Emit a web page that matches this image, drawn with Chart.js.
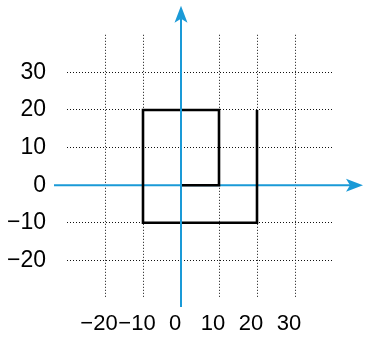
<!DOCTYPE html>
<html>
<head>
<meta charset="utf-8">
<script src="https://cdn.jsdelivr.net/npm/chart.js@4"></script>
<style>
  html, body { margin: 0; padding: 0; background: #fff; }
  #wrap { width: 366px; height: 337px; position: relative; }
</style>
</head>
<body>
<div id="wrap"><canvas id="chart"></canvas></div>
<script>
// spiral path, in grid units
const pathX = [0, 10, 10, -10, -10, 20, 20];
const pathY = [0, 0, 20, 20, -10, -10, 20];

// ticks with a label and a dotted grid line
const xTickValues = [-20, -10, 0, 10, 20, 30];
const yTickValues = [-20, -10, 0, 10, 20, 30];

// visible window of the grid
const xRange = [-30, 40];
const yRange = [-30, 40];

const axisBlue = '#1a9ad7';
const fontFamily = '"Liberation Sans", Arial, Helvetica, sans-serif';

function label(v, list) {
    return list.includes(v) ? String(v).replace('-', '\u2212') : '';
}

function everyTen(scale) {
    const ticks = [];
    for (let v = scale.min; v <= scale.max; v += 10) ticks.push({ value: v });
    scale.ticks = ticks;
}

function arrowLine(ctx, x1, y1, x2, y2) {
    // line from (x1,y1) to an arrow tip at (x2,y2)
    const ang = Math.atan2(y2 - y1, x2 - x1);
    const len = 17, half = 6.5, notch = 4;
    const cos = Math.cos(ang), sin = Math.sin(ang);
    const bx = x2 - cos * len, by = y2 - sin * len;
    ctx.beginPath();
    ctx.moveTo(x1, y1);
    ctx.lineTo(x2 - cos * (len - notch), y2 - sin * (len - notch));
    ctx.stroke();
    ctx.beginPath();
    ctx.moveTo(x2, y2);
    ctx.lineTo(bx - sin * half, by + cos * half);
    ctx.lineTo(x2 - cos * (len - notch), y2 - sin * (len - notch));
    ctx.lineTo(bx + sin * half, by - cos * half);
    ctx.closePath();
    ctx.fill();
}

const axesPlugin = {
    id: 'arrowAxes',
    beforeDatasetsDraw(chart) {
        const { ctx, chartArea: a, scales } = chart;
        const y0 = scales.y.getPixelForValue(0);
        ctx.save();
        ctx.strokeStyle = axisBlue;
        ctx.fillStyle = axisBlue;
        ctx.lineWidth = 2;
        arrowLine(ctx, a.left - 13, y0, a.right + 30, y0);
        ctx.restore();
    },
    afterDatasetsDraw(chart) {
        const { ctx, chartArea: a, scales } = chart;
        const x0 = scales.x.getPixelForValue(0);
        ctx.save();
        ctx.strokeStyle = axisBlue;
        ctx.fillStyle = axisBlue;
        ctx.lineWidth = 2;
        arrowLine(ctx, x0, a.bottom + 9, x0, a.top - 29);
        ctx.restore();
    }
};

new Chart(document.getElementById('chart'), {
    type: 'scatter',
    data: {
        datasets: [{
            data: pathX.map((x, i) => ({ x: x, y: pathY[i] })),
            showLine: true,
            borderColor: '#000',
            borderWidth: 2.6,
            pointRadius: 0,
            tension: 0,
            borderJoinStyle: 'miter'
        }]
    },
    options: {
        responsive: true,
        maintainAspectRatio: false,
        animation: false,
        layout: { padding: { top: 34, right: 33, left: 0, bottom: 0 } },
        plugins: { legend: { display: false }, tooltip: { enabled: false } },
        scales: {
            x: {
                type: 'linear',
                min: xRange[0],
                max: xRange[1],
                afterBuildTicks: everyTen,
                afterFit(scale) { scale.height = 39; },
                // border.dash is what v4 uses for the grid line dash
                border: { display: false, dash: [1, 2] },
                grid: {
                    drawTicks: false,
                    color: c => xTickValues.includes(c.tick.value) ? '#111' : 'rgba(0,0,0,0)',
                    lineWidth: 1
                },
                ticks: {
                    autoSkip: false,
                    maxRotation: 0,
                    padding: 13,
                    labelOffset: -6,
                    color: '#000',
                    font: { family: fontFamily, size: 22 },
                    callback: v => label(v, xTickValues)
                }
            },
            y: {
                type: 'linear',
                min: yRange[0],
                max: yRange[1],
                afterBuildTicks: everyTen,
                afterFit(scale) { scale.width = 67; },
                border: { display: false, dash: [1, 2] },
                grid: {
                    drawTicks: false,
                    color: c => yTickValues.includes(c.tick.value) ? '#111' : 'rgba(0,0,0,0)',
                    lineWidth: 1
                },
                ticks: {
                    autoSkip: false,
                    padding: 21,
                    color: '#000',
                    font: { family: fontFamily, size: 23 },
                    callback: v => label(v, yTickValues)
                }
            }
        }
    },
    plugins: [axesPlugin]
});
</script>
</body>
</html>
